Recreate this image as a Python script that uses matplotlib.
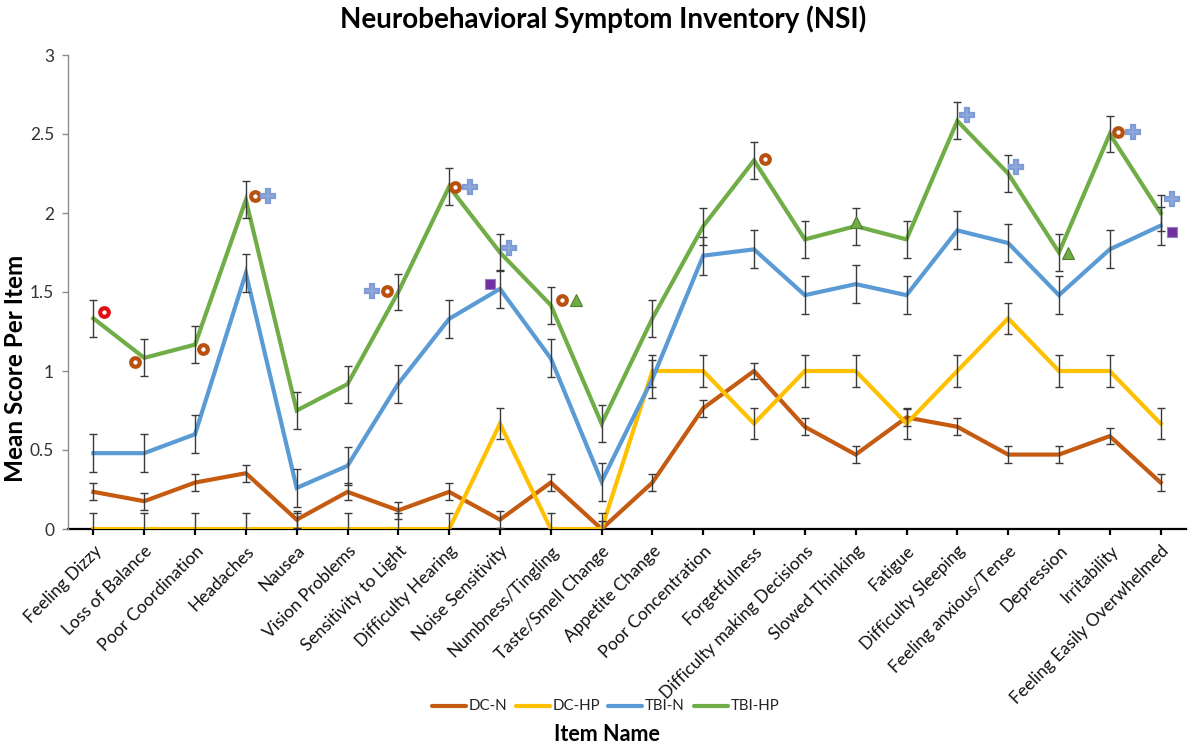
import matplotlib
matplotlib.use("Agg")
import matplotlib.pyplot as plt
from matplotlib.lines import Line2D
import matplotlib.transforms as mtransforms
import numpy as np

plt.rcParams['font.family'] = ['Lato', 'DejaVu Sans']

items = ["Feeling Dizzy", "Loss of Balance", "Poor Coordination", "Headaches", "Nausea",
         "Vision Problems", "Sensitivity to Light", "Difficulty Hearing", "Noise Sensitivity",
         "Numbness/Tingling", "Taste/Smell Change", "Appetite Change", "Poor Concentration",
         "Forgetfulness", "Difficulty making Decisions", "Slowed Thinking", "Fatigue",
         "Difficulty Sleeping", "Feeling anxious/Tense", "Depression", "Irritability",
         "Feeling Easily Overwhelmed"]

dc_n = [0.235, 0.176, 0.294, 0.353, 0.059, 0.235, 0.118, 0.235, 0.059, 0.294, 0.0,
        0.294, 0.765, 1.0, 0.647, 0.471, 0.706, 0.647, 0.471, 0.471, 0.588, 0.294]
dc_hp = [0, 0, 0, 0, 0, 0, 0, 0, 0.667, 0, 0, 1.0, 1.0, 0.667, 1.0, 1.0, 0.667, 1.0,
         1.333, 1.0, 1.0, 0.667]
tbi_n = [0.48, 0.48, 0.60, 1.62, 0.26, 0.40, 0.92, 1.33, 1.52, 1.08, 0.30, 0.95, 1.73,
         1.77, 1.48, 1.55, 1.48, 1.89, 1.81, 1.48, 1.77, 1.92]
tbi_hp = [1.333, 1.083, 1.167, 2.083, 0.75, 0.917, 1.5, 2.167, 1.75, 1.417, 0.667, 1.333,
          1.917, 2.333, 1.833, 1.917, 1.833, 2.583, 2.25, 1.75, 2.5, 2.0]

err_dc_n = [0.053] * 22
err_dc_hp = [0.1] * 22
err_tbi_n = [0.12] * 22
err_tbi_hp = [0.117] * 22

series_names = ["DC-N", "DC-HP", "TBI-N", "TBI-HP"]

# significance markers
sig_items = ["Feeling Dizzy", "Loss of Balance", "Poor Coordination", "Headaches", "Headaches",
             "Sensitivity to Light", "Sensitivity to Light", "Difficulty Hearing",
             "Difficulty Hearing", "Noise Sensitivity", "Noise Sensitivity",
             "Numbness/Tingling", "Numbness/Tingling", "Forgetfulness", "Slowed Thinking",
             "Difficulty Sleeping", "Feeling anxious/Tense", "Depression", "Irritability",
             "Irritability", "Feeling Easily Overwhelmed", "Feeling Easily Overwhelmed"]
sig_values = [1.375, 1.06, 1.14, 2.11, 2.11, 1.506, 1.506, 2.167, 2.167, 1.78, 1.55,
              1.45, 1.45, 2.34, 1.94, 2.62, 2.29, 1.75, 2.515, 2.515, 2.09, 1.88]
sig_kinds = ["red", "ring", "ring", "ring", "cross", "cross", "ring", "ring", "cross",
             "cross", "square", "ring", "tri", "ring", "tri", "cross", "cross", "tri",
             "ring", "cross", "cross", "square"]
sig_dx = [0.20, -0.19, 0.16, 0.17, 0.44, -0.51, -0.22, 0.11, 0.41, 0.18, -0.20,
          0.23, 0.49, 0.21, 0.0, 0.20, 0.16, 0.17, 0.17, 0.45, 0.22, 0.22]

colors = ["#C55A11", "#FFC000", "#5B9BD5", "#70AD47"]
marker_styles = {
    "ring": dict(marker='o', ms=6.2, mfc='white', mec='#B8500F', mew=3.0),
    "red": dict(marker='o', ms=6.2, mfc='white', mec='#E01010', mew=3.0),
    "cross": dict(marker='P', ms=9.5, mfc='#8FAADC', mec='#7F9DD4', mew=1.6),
    "square": dict(marker='s', ms=7.5, mfc='#7030A0', mec='#9A7CC0', mew=0.8),
    "tri": dict(marker='^', ms=9, mfc='#70AD47', mec='#4E7E30', mew=0.8),
}

W, H = 1195, 750
fig = plt.figure(figsize=(W / 100, H / 100), dpi=100)
ax = fig.add_axes([68 / W, 1 - 529 / H, (1186 - 68) / W, (529 - 55) / H])

x = np.arange(len(items))
all_vals = [dc_n, dc_hp, tbi_n, tbi_hp]
all_errs = [err_dc_n, err_dc_hp, err_tbi_n, err_tbi_hp]
for i, (vals, c, name) in enumerate(zip(all_vals, colors, series_names)):
    ax.plot(x, vals, color=c, lw=3.0, label=name, zorder=2 + i, solid_joinstyle='miter')
for i, (vals, errs) in enumerate(zip(all_vals, all_errs)):
    ax.errorbar(x, vals, yerr=errs, fmt='none', ecolor='#3A3A3A', elinewidth=1.0,
                capsize=3.2, capthick=1.0, zorder=7)

for it, v, k, dx in zip(sig_items, sig_values, sig_kinds, sig_dx):
    ax.plot(items.index(it) + dx, v, ls='none', zorder=10, clip_on=False, **marker_styles[k])

ax.set_xlim(-0.5, len(items) - 0.5)
ax.set_ylim(0, 3)
ax.set_yticks([0, 0.5, 1, 1.5, 2, 2.5, 3])
ax.set_yticklabels(["0", "0.5", "1", "1.5", "2", "2.5", "3"])
ax.set_xticks(x)
ax.set_xticklabels(items, rotation=45, ha='right', va='top', rotation_mode='anchor',
                   fontsize=12.5, color='#111111')
shift = mtransforms.ScaledTranslation(8 / 100, 0, fig.dpi_scale_trans)
for lbl in ax.get_xticklabels():
    lbl.set_transform(lbl.get_transform() + shift)

for s in ['top', 'right']:
    ax.spines[s].set_visible(False)
ax.spines['left'].set_color('#8C8C8C')
ax.spines['left'].set_linewidth(1.0)
ax.spines['bottom'].set_color('black')
ax.spines['bottom'].set_linewidth(1.6)
ax.spines['bottom'].set_zorder(1)
ax.tick_params(axis='y', direction='out', length=4, width=1, color='#8C8C8C',
               labelsize=12.5, labelcolor='#333333', pad=6)
ax.tick_params(axis='x', direction='out', length=4, width=1.6, color='black', pad=6)

ax.set_ylabel("Mean Score Per Item", fontsize=17.5, fontweight='bold')
ax.yaxis.set_label_coords(-0.0367, 0.338)

fig.text(0.505, 0.974, "Neurobehavioral Symptom Inventory (NSI)", ha='center', va='center',
         fontsize=20, fontweight='bold')
fig.text(0.508, 0.021, "Item Name", ha='center', va='center', fontsize=15.5, fontweight='bold')

# legend drawn manually (positions in figure pixels)
leg_line_x = [432, 516, 608, 694]
leg_y = 1 - 706 / H
for lx, c, name in zip(leg_line_x, colors, series_names):
    fig.add_artist(Line2D([lx / W, (lx + 34) / W], [leg_y, leg_y], color=c, lw=3.0,
                          solid_capstyle='round', transform=fig.transFigure))
    fig.text((lx + 37) / W, leg_y, name, ha='left', va='center', fontsize=10.8,
             color='#222222')

fig.savefig("out.png", dpi=100)
